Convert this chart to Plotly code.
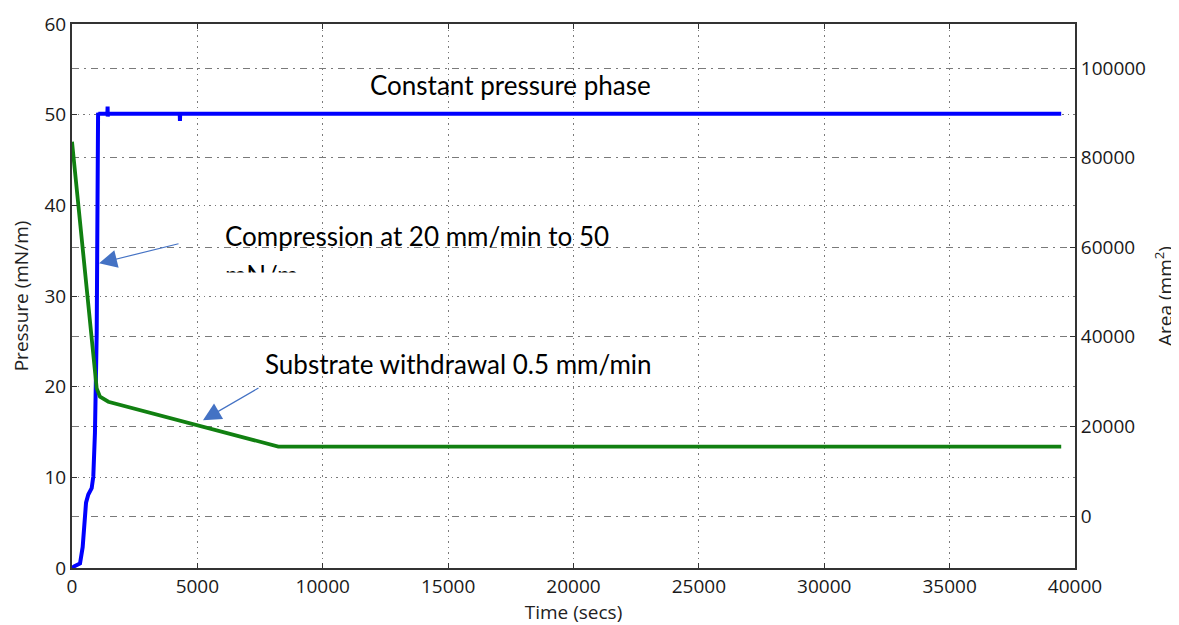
import plotly.graph_objects as go

# ---- data ----
time_pressure = [0, 100, 320, 425, 560, 650, 785, 850, 915, 985, 1040, 1050, 1410, 1420, 1425, 1435,
                 4295, 4305, 4315, 10000, 20000, 30000, 39450]
pressure = [0, 0.2, 0.5, 2.3, 7.2, 8.1, 8.8, 10.1, 14.9, 25.9, 50.2, 50.1, 50.1, 50.9, 49.8, 50.1,
            50.1, 49.3, 50.1, 50.1, 50.1, 50.1, 50.1]

time_area = [0, 900, 985, 1116, 1448, 8227, 39450]
area = [83550, 34000, 28500, 26630, 25510, 15500, 15500]

x_ticks = [0, 5000, 10000, 15000, 20000, 25000, 30000, 35000, 40000]
p_ticks = [0, 10, 20, 30, 40, 50, 60]
a_ticks = [0, 20000, 40000, 60000, 80000, 100000]

fig = go.Figure()
fig.add_trace(go.Scatter(x=time_pressure, y=pressure, mode="lines",
                         line=dict(color="#0000ff", width=4), yaxis="y", showlegend=False))
fig.add_trace(go.Scatter(x=time_area, y=area, mode="lines",
                         line=dict(color="#118011", width=3.8), yaxis="y2", showlegend=False))

tickfont = dict(family="Open Sans", size=19, color="#1a1a1a")
titlefont = dict(family="Open Sans", size=19, color="#222")
axcol = "#333"
gridcol = "#7a7a7a"

# the page body adds an 8px offset, so the figure is drawn 8px smaller
fig.update_layout(
    width=1171, height=617,
    margin=dict(l=64, r=104, t=16, b=57),
    paper_bgcolor="white", plot_bgcolor="white",
    xaxis=dict(range=[0, 40000], tickvals=x_ticks, ticktext=[str(v) for v in x_ticks],
               showgrid=True, gridcolor=gridcol, griddash="1.5px,4px", gridwidth=1.2,
               showline=True, linecolor=axcol, linewidth=2, mirror="ticks",
               ticks="inside", ticklen=5, tickcolor=axcol, tickfont=tickfont,
               zeroline=False, automargin=False,
               title=dict(text="Time (secs)", font=titlefont, standoff=6)),
    yaxis=dict(range=[0, 60], tickvals=p_ticks, showgrid=True, gridcolor=gridcol,
               griddash="1.5px,4px", gridwidth=1.2,
               showline=True, linecolor=axcol, linewidth=2,
               ticks="inside", ticklen=5, tickcolor=axcol, tickfont=tickfont, zeroline=False,
               automargin=False,
               title=dict(text="Pressure (mN/m)", font=titlefont, standoff=17)),
    yaxis2=dict(range=[-11607, 109821], tickvals=a_ticks, ticktext=[str(v) for v in a_ticks],
                overlaying="y", side="right",
                showgrid=True, gridcolor=gridcol, griddash="7px,5px,2px,5px", gridwidth=1.2,
                showline=True, linecolor=axcol, linewidth=2,
                ticks="inside", ticklen=5, tickcolor=axcol, tickfont=tickfont, zeroline=False,
                automargin=False,
                title=dict(text="Area (mm<sup>2</sup>)", font=titlefont, standoff=14)),
)

# white text boxes (cover the grid, below the traces)
boxes = [
    (10965, 24362, 50.6, 56.6),
    (5100, 24950, 31.6, 39.6),
    (6750, 24900, 20.4, 25.4),
]
for x0, x1, y0, y1 in boxes:
    fig.add_shape(type="rect", xref="x", yref="y", x0=x0, x1=x1, y0=y0, y1=y1,
                  fillcolor="white", line=dict(width=0), layer="below")

afont = dict(family="Lato", size=26, color="#000")
fig.add_annotation(x=11805, y=53.3, xref="x", yref="y", text="Constant pressure phase",
                   showarrow=False, xanchor="left", yanchor="middle", font=afont)
fig.add_annotation(x=6022, y=36.6, xref="x", yref="y", text="Compression at 20 mm/min to 50",
                   showarrow=False, xanchor="left", yanchor="middle", font=afont)
fig.add_annotation(x=6022, y=32.3, xref="x", yref="y", text="mN/m",
                   showarrow=False, xanchor="left", yanchor="middle", font=afont)
# the text box clips the second line
fig.add_annotation(x=5800, y=32.65, xref="x", yref="y", text="&nbsp;", showarrow=False,
                   xanchor="left", yanchor="top", width=100, height=20, bgcolor="white",
                   borderpad=0, font=dict(size=8, color="white"))
fig.add_annotation(x=7617, y=22.5, xref="x", yref="y", text="Substrate withdrawal 0.5 mm/min",
                   showarrow=False, xanchor="left", yanchor="middle", font=afont)

# arrows
arrow_col = "#4472C4"
fig.add_annotation(x=1077, y=33.6, xref="x", yref="y", text="&nbsp;", font=dict(size=1),
                   showarrow=True, ax=81, ay=-20, arrowhead=2, arrowsize=3, arrowwidth=1.2,
                   arrowcolor=arrow_col)
fig.add_annotation(x=5223, y=16.3, xref="x", yref="y", text="&nbsp;", font=dict(size=1),
                   showarrow=True, ax=57, ay=-33, arrowhead=2, arrowsize=3, arrowwidth=1.2,
                   arrowcolor=arrow_col)

fig.write_html("out.html")
